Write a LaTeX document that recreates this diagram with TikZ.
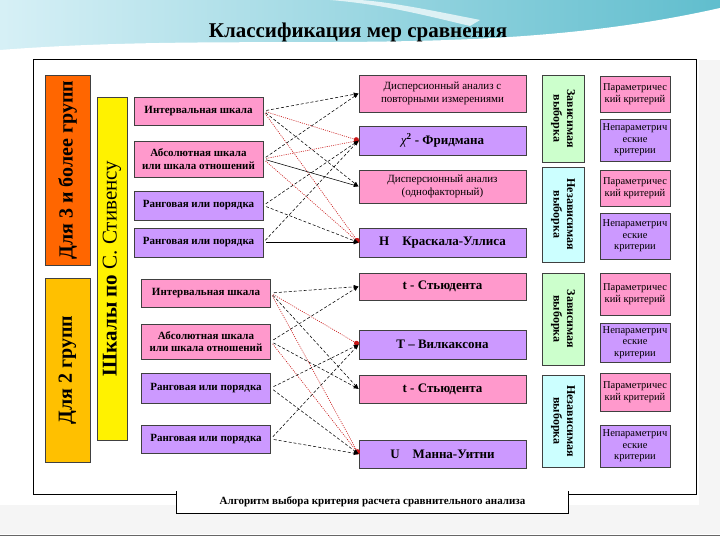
\documentclass[tikz,border=0pt]{standalone}
\usepackage{fontspec}
\setmainfont{Liberation Serif}
\usepackage{tikz}
\definecolor{rosebox}{RGB}{255,153,204}
\definecolor{lilacbox}{RGB}{204,153,255}
\definecolor{orangebox}{RGB}{255,102,0}
\definecolor{goldbox}{RGB}{255,192,0}
\definecolor{mintbox}{RGB}{204,255,204}
\definecolor{icebox}{RGB}{204,255,255}
\definecolor{redline}{RGB}{200,20,20}
\definecolor{sky}{RGB}{120,205,225}
\usetikzlibrary{arrows.meta, positioning, calc}

\begin{document}
\begin{tikzpicture}[x=1pt, y=-1pt,
    box/.style={draw=black!75, line width=0.6pt, fill=#1, inner sep=1pt, align=center},
    scalebox/.style={box=#1, minimum width=129pt, font=\bfseries\fontsize{11}{12.5}\selectfont},
    methbox/.style={box=#1, minimum width=167pt, font=\bfseries\fontsize{13}{14}\selectfont},
    critbox/.style={box=#1, minimum width=70pt, font=\fontsize{10.5}{11.5}\selectfont},
    samplebox/.style={box=#1, rotate=-90, minimum height=42pt, font=\bfseries\fontsize{12}{13.5}\selectfont},
    link/.style={-{Latex[length=5pt,width=4pt]}, black, line width=0.55pt, shorten <=3pt},
    dlink/.style={link, dash pattern=on 3pt off 2pt},
    redlink/.style={-{Circle[length=5pt]}, redline, line width=0.6pt, dash pattern=on 1pt off 1.2pt, shorten <=3pt}
]
    \useasboundingbox (0,0) rectangle (720,540);
    % slide background
    \fill[white] (0,0) rectangle (720,540);
    \shade[left color=sky!30, right color=sky!80!teal] (0,0) rectangle (720,52);
    \fill[white] (0,58) -- (0,50) .. controls (260,30) and (480,62) .. (720,8) -- (720,58) -- cycle;
    \fill[white, opacity=0.7] (330,0) .. controls (380,4) and (420,14) .. (470,26) -- (480,20) .. controls (430,10) and (390,2) .. (360,0) -- cycle;
    \fill[black!4] (699,60) rectangle (720,534);
    \fill[black!4] (0,505) rectangle (720,534);
    \draw[black!60, line width=1pt] (0,535) -- (720,535);

    % Title
    \node[font=\bfseries\fontsize{21}{23}\selectfont] (title) at (358,32) {Классификация мер сравнения};

    % Frame
    \draw[line width=0.8pt] (33,59) rectangle (696,494);

    % Groups
    \node[box=orangebox, rotate=90, minimum width=190pt, minimum height=45pt,
          font=\bfseries\fontsize{20}{22}\selectfont] (grp3) at (67.5,170) {Для 3 и более групп};
    \node[box=goldbox, rotate=90, minimum width=184pt, minimum height=45pt,
          font=\bfseries\fontsize{20}{22}\selectfont] (grp2) at (67.5,370) {Для 2 групп};
    \node[box=yellow, rotate=90, minimum width=343pt, minimum height=30pt,
          font=\fontsize{21}{23}\selectfont] (stev) at (112,268.5) {\textbf{Шкалы по} С. Стивенсу};

    % Scales, 3 and more groups
    \node[scalebox=rosebox, minimum height=28pt] (int1) at (198.5,111) {Интервальная шкала};
    \node[scalebox=rosebox, minimum height=36pt] (abs1) at (198.5,159) {Абсолютная шкала\\или шкала отношений};
    \node[scalebox=lilacbox, minimum height=29pt] (rnk1a) at (198.5,205.5) {Ранговая или порядка};
    \node[scalebox=lilacbox, minimum height=29pt] (rnk1b) at (198.5,242.5) {Ранговая или порядка};

    % Scales, 2 groups
    \node[scalebox=rosebox, minimum height=28pt] (int2) at (206,293) {Интервальная шкала};
    \node[scalebox=rosebox, minimum height=35pt] (abs2) at (206,341.5) {Абсолютная шкала\\или шкала отношений};
    \node[scalebox=lilacbox, minimum height=30pt] (rnk2a) at (206,388) {Ранговая или порядка};
    \node[scalebox=lilacbox, minimum height=28pt] (rnk2b) at (206,439) {Ранговая или порядка};

    % Methods
    \node[methbox=rosebox, minimum height=37pt, font=\fontsize{11}{12.5}\selectfont] (anovr) at (442.5,93.5)
        {Дисперсионный анализ с\\повторными измерениями};
    \node[methbox=lilacbox, minimum height=29pt] (fried) at (442.5,140.5)
        {{\mdseries\itshape χ}\textsuperscript{2} - Фридмана};
    \node[methbox=rosebox, minimum height=33pt, font=\fontsize{11}{12.5}\selectfont] (anova) at (442.5,186.5)
        {Дисперсионный анализ\\(однофакторный)};
    \node[methbox=lilacbox, minimum height=29pt] (krusk) at (442.5,242.5) {H\quad Краскала-Уллиса};
    \node[methbox=rosebox, minimum height=27pt] (stud1) at (442.5,286.5) {t - Стьюдента};
    \node[methbox=lilacbox, minimum height=29pt] (wilc) at (442.5,344.5) {T -- Вилкаксона};
    \node[methbox=rosebox, minimum height=28pt] (stud2) at (442.5,389) {t - Стьюдента};
    \node[methbox=lilacbox, minimum height=28pt] (mann) at (442.5,454) {U\quad Манна-Уитни};

    % Samples
    \node[samplebox=mintbox, minimum width=87pt] (dep1) at (563,118.5) {Зависимая\\выборка};
    \node[samplebox=icebox, minimum width=95pt] (ind1) at (563,214.5) {Независимая\\выборка};
    \node[samplebox=mintbox, minimum width=92pt] (dep2) at (563,319) {Зависимая\\выборка};
    \node[samplebox=icebox, minimum width=92pt] (ind2) at (563,421) {Независимая\\выборка};

    % Criteria
    \node[critbox=rosebox, minimum height=36pt] (par1) at (635,94) {Параметричес\\кий критерий};
    \node[critbox=lilacbox, minimum height=42pt] (npar1) at (635,140) {Непараметрич\\еские\\критерии};
    \node[critbox=rosebox, minimum height=36pt] (par2) at (635,188) {Параметричес\\кий критерий};
    \node[critbox=lilacbox, minimum height=46pt] (npar2) at (635,236) {Непараметрич\\еские\\критерии};
    \node[critbox=rosebox, minimum height=42pt] (par3) at (635,294) {Параметричес\\кий критерий};
    \node[critbox=lilacbox, minimum height=39pt] (npar3) at (635,342.5) {Непараметрич\\еские\\критерии};
    \node[critbox=rosebox, minimum height=38pt] (par4) at (635,392) {Параметричес\\кий критерий};
    \node[critbox=lilacbox, minimum height=42pt] (npar4) at (635,446) {Непараметрич\\еские\\критерии};

    % Links, 3 and more groups
    \draw[dlink] (int1.east) -- (anovr.west);
    \draw[redlink] (int1.east) -- (fried.west);
    \draw[dlink] (int1.east) -- (anova.west);
    \draw[redlink] (int1.east) -- (krusk.west);
    \draw[dlink] (abs1.east) -- (anovr.west);
    \draw[redlink] (abs1.east) -- (fried.west);
    \draw[link] (abs1.east) -- (anova.west);
    \draw[redlink] (abs1.east) -- (krusk.west);
    \draw[dlink] (rnk1a.east) -- (fried.west);
    \draw[dlink] (rnk1a.east) -- (krusk.west);
    \draw[dlink] (rnk1b.east) -- (fried.west);
    \draw[link] (rnk1b.east) -- (krusk.west);

    % Links, 2 groups
    \draw[dlink] (int2.east) -- (stud1.west);
    \draw[redlink] (int2.east) -- (wilc.west);
    \draw[dlink] (int2.east) -- (stud2.west);
    \draw[redlink] (int2.east) -- (mann.west);
    \draw[dlink] (abs2.east) -- (stud1.west);
    \draw[dlink] (abs2.east) -- (stud2.west);
    \draw[redlink] (abs2.east) -- (mann.west);
    \draw[dlink] (rnk2a.east) -- (wilc.west);
    \draw[dlink] (rnk2a.east) -- (mann.west);
    \draw[dlink] (rnk2b.east) -- (wilc.west);
    \draw[dlink] (rnk2b.east) -- (mann.west);

    % Footer
    \node[fill=white, minimum width=391pt, minimum height=22pt,
          font=\bfseries\fontsize{11}{12}\selectfont] (algo) at (372.5,502)
        {Алгоритм выбора критерия расчета сравнительного анализа};
    \draw[line width=0.8pt] (algo.north west) -- (algo.south west) -- (algo.south east) -- (algo.north east);
\end{tikzpicture}
\end{document}
